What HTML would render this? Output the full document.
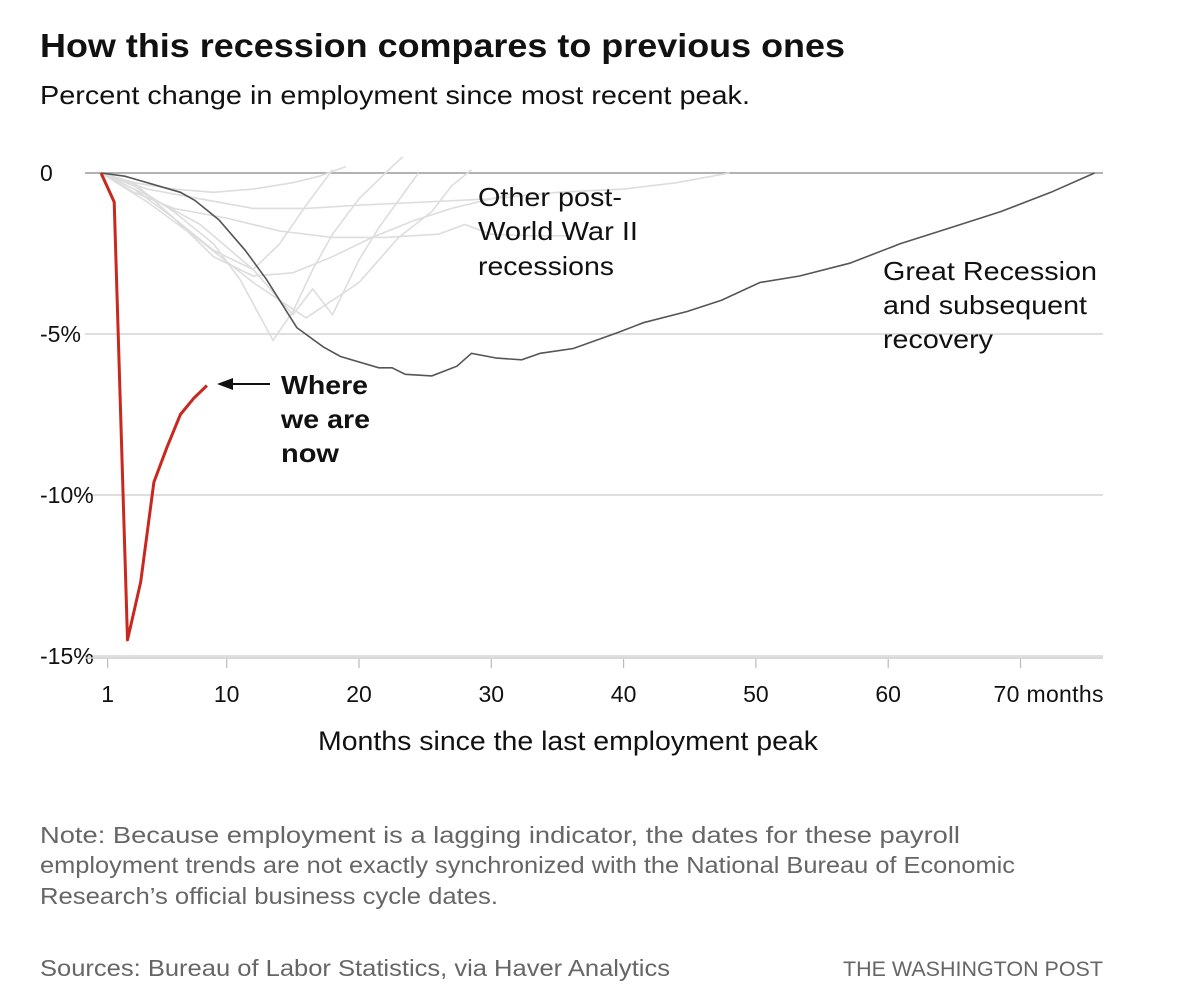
<!DOCTYPE html>
<html><head><meta charset="utf-8"><style>
body{margin:0;background:#fff;}
svg{display:block;font-family:"Liberation Sans",Arial,sans-serif;}
</style></head><body>
<svg id="chart" width="1200" height="1001" viewBox="0 0 1200 1001">
<text x="40" y="57" font-size="33" font-weight="bold" fill="#111" textLength="805" lengthAdjust="spacingAndGlyphs">How this recession compares to previous ones</text>
<text x="40" y="104" font-size="26" fill="#111" textLength="710" lengthAdjust="spacingAndGlyphs">Percent change in employment since most recent peak.</text>
<g id="grid"></g>
<g id="gray"></g>
<g id="marks"></g>
<text font-size="26" fill="#111"><tspan x="478" y="206" textLength="144" lengthAdjust="spacingAndGlyphs">Other post-</tspan><tspan x="478" y="240" textLength="160" lengthAdjust="spacingAndGlyphs">World War II</tspan><tspan x="478" y="275" textLength="136" lengthAdjust="spacingAndGlyphs">recessions</tspan></text>
<text font-size="26" fill="#111"><tspan x="883" y="280" textLength="214" lengthAdjust="spacingAndGlyphs">Great Recession</tspan><tspan x="883" y="314" textLength="204" lengthAdjust="spacingAndGlyphs">and subsequent</tspan><tspan x="883" y="348" textLength="110" lengthAdjust="spacingAndGlyphs">recovery</tspan></text>
<text font-size="26" font-weight="bold" fill="#111"><tspan x="281" y="394" textLength="87" lengthAdjust="spacingAndGlyphs">Where</tspan><tspan x="281" y="428" textLength="89" lengthAdjust="spacingAndGlyphs">we are</tspan><tspan x="281" y="462" textLength="58" lengthAdjust="spacingAndGlyphs">now</tspan></text>
<line x1="230" y1="384" x2="270" y2="384" stroke="#111" stroke-width="2"/>
<polygon points="217,384 233,378 233,390" fill="#111"/>
<text x="318" y="750" font-size="27" fill="#111" textLength="500" lengthAdjust="spacingAndGlyphs">Months since the last employment peak</text>
<text font-size="23" fill="#666"><tspan x="40" y="843" textLength="920" lengthAdjust="spacingAndGlyphs">Note: Because employment is a lagging indicator, the dates for these payroll</tspan><tspan x="40" y="873" textLength="975" lengthAdjust="spacingAndGlyphs">employment trends are not exactly synchronized with the National Bureau of Economic</tspan><tspan x="40" y="904" textLength="458" lengthAdjust="spacingAndGlyphs">Research’s official business cycle dates.</tspan></text>
<text x="40" y="976" font-size="23" fill="#666" textLength="630" lengthAdjust="spacingAndGlyphs">Sources: Bureau of Labor Statistics, via Haver Analytics</text>
<text x="843" y="976" font-size="21" fill="#666" textLength="260" lengthAdjust="spacingAndGlyphs">THE WASHINGTON POST</text>
</svg>
<script>
const yTicks=[0,-5,-10,-15];
const yTickLabels=["0","-5%","-10%","-15%"];
const xTicks=[1,10,20,30,40,50,60,70];
const xTickLabels=["1","10","20","30","40","50","60","70 months"];
const redMonths=[0.5,1.5,2.5,3.5,4.5,5.5,6.5,7.5,8.5];
const redValues=[0,-0.9,-14.5,-12.7,-9.6,-8.5,-7.5,-7.0,-6.6];
const grMonths=[0.5,2.3,6.5,7.6,9.4,11.4,13.0,15.3,17.3,18.6,21.5,22.5,23.5,25.5,27.4,28.5,30.4,32.3,33.7,36.2,39.6,41.5,44.8,47.4,50.3,53.3,57.1,60.9,64.7,68.5,72.3,75.6];
const grValues=[0,-0.1,-0.6,-0.85,-1.45,-2.4,-3.3,-4.8,-5.4,-5.7,-6.05,-6.05,-6.25,-6.3,-6.0,-5.6,-5.75,-5.8,-5.6,-5.45,-4.95,-4.65,-4.3,-3.95,-3.4,-3.2,-2.8,-2.2,-1.7,-1.2,-0.6,0];
const g1M=[0.5,3,6,9,11,13.5,15,16.5,18,20,22.5,23.3];
const g1V=[0,-0.4,-1.2,-2.2,-3.3,-5.2,-4.3,-3.0,-1.9,-0.8,0.2,0.5];
const g2M=[0.5,4,8,12,15,16.5,18,20,21.5,24.5];
const g2V=[0,-0.7,-1.6,-3.0,-4.4,-3.6,-4.4,-2.7,-1.7,0];
const g3M=[0.5,3,6,10,14,18,22,26,28,30,33,36];
const g3V=[0,-0.6,-1.1,-1.4,-1.8,-2.0,-2.0,-1.9,-1.6,-1.9,-1.95,-1.95];
const g4M=[0.5,4,8,12,16,20,25,30,35,40,44,48];
const g4V=[0,-0.5,-0.8,-1.1,-1.1,-1.0,-0.9,-0.8,-0.6,-0.5,-0.3,0];
const g5M=[0.5,3,6,9,12,15,17,19];
const g5V=[0,-0.3,-0.5,-0.6,-0.5,-0.3,-0.1,0.2];
const g6M=[0.5,4,8,12,16,20,23,25.5,27,28.5];
const g6V=[0,-0.9,-2.1,-3.4,-4.5,-3.4,-2.0,-1.2,-0.4,0.1];
const g7M=[0.5,3,6,9,12,15,18,21,24,27,30,32];
const g7V=[0,-0.3,-1.4,-2.6,-3.2,-3.1,-2.6,-2.0,-1.5,-1.1,-0.8,-0.6];
const g8M=[0.5,3,6,9,12,14,16,18];
const g8V=[0,-0.5,-1.4,-2.4,-3.0,-2.2,-1.0,0.1];
const grayM=[g1M,g2M,g3M,g4M,g5M,g6M,g7M,g8M];
const grayV=[g1V,g2V,g3V,g4V,g5V,g6V,g7V,g8V];
const X=m=>94.4+13.23*m;
const Y=v=>173-32.2*v;
const NS="http://www.w3.org/2000/svg";
function mk(tag,attrs,parent,txt){const e=document.createElementNS(NS,tag);for(const k in attrs)e.setAttribute(k,attrs[k]);if(txt!=null)e.textContent=txt;parent.appendChild(e);return e;}
const grid=document.getElementById('grid');
yTicks.forEach((t,i)=>{
  const l=mk('line',{x1:85,x2:1103,y1:Y(t),y2:Y(t),stroke:t===0?'#999':'#ccc','stroke-width':t===0?1.6:1.2},grid);
  
  
  const tx=mk('text',{x:40,y:Y(t)+8,'font-size':23,fill:'#111'},grid,yTickLabels[i]);
  
  
});
const ax=mk('line',{x1:85,x2:1103,y1:658,y2:658,stroke:'#ccc','stroke-width':1.4},grid);


xTicks.forEach((t,i)=>{
  const l=mk('line',{x1:X(t),x2:X(t),y1:659,y2:668,stroke:'#bbb','stroke-width':1.2},grid);
  
  
  const last=i===xTicks.length-1;
  const tx=mk('text',{x:X(t)-(last?27:0),y:702,'font-size':23,fill:'#111','text-anchor':last?'start':'middle'},grid,xTickLabels[i]);
  if(last){tx.setAttribute('textLength','110');}
  
  
});
const pts=(M,V)=>M.map((m,i)=>X(m).toFixed(1)+','+Y(V[i]).toFixed(1)).join(' ');
const gray=document.getElementById('gray');
grayM.forEach((M,i)=>{
  const p=mk('polyline',{points:pts(M,grayV[i]),fill:'none',stroke:'#ddd','stroke-width':1.6},gray);
  
  
});
const marks=document.getElementById('marks');
const gl=mk('polyline',{points:pts(grMonths,grValues),fill:'none',stroke:'#555','stroke-width':1.6},marks);


const rl=mk('polyline',{points:pts(redMonths,redValues),fill:'none',stroke:'#c8281e','stroke-width':3,'stroke-linejoin':'round'},marks);


</script>
</body></html>
